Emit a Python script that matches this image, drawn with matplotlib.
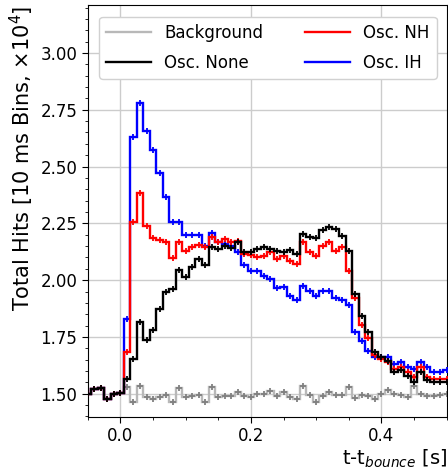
import numpy as np
import matplotlib
matplotlib.use("Agg")
import matplotlib.pyplot as plt
from matplotlib.ticker import MultipleLocator, FormatStrFormatter

# bin centres [s], 10 ms bins
time = np.round(np.arange(-0.05, 0.505, 0.01), 2)

# total hits per bin, x 1e4
background = [
    1.499, 1.523, 1.527, 1.479, 1.497, 1.502,
    1.531, 1.466, 1.535, 1.484, 1.477, 1.484, 1.496, 1.466, 1.525, 1.484,
    1.491, 1.494, 1.462, 1.531, 1.487, 1.491, 1.491, 1.506, 1.491, 1.487,
    1.499, 1.499, 1.513, 1.491, 1.506, 1.487, 1.477, 1.535, 1.496, 1.462,
    1.491, 1.510, 1.496, 1.496, 1.528, 1.481, 1.496, 1.491, 1.477, 1.499,
    1.516, 1.499, 1.496, 1.487, 1.535, 1.501, 1.491, 1.491, 1.496, 1.499,
]
osc_none = [
    1.499, 1.523, 1.527, 1.479, 1.497, 1.502,
    1.565, 1.653, 1.814, 1.738, 1.782, 1.873, 1.950, 1.963, 2.043, 2.015,
    2.058, 2.095, 2.065, 2.147, 2.137, 2.151, 2.140, 2.169, 2.125, 2.125,
    2.139, 2.144, 2.136, 2.129, 2.122, 2.134, 2.117, 2.205, 2.188, 2.185,
    2.220, 2.232, 2.223, 2.195, 2.128, 1.940, 1.842, 1.770, 1.682, 1.664,
    1.645, 1.594, 1.604, 1.579, 1.550, 1.597, 1.562, 1.550, 1.550, 1.552,
]
osc_nh = [
    1.499, 1.523, 1.527, 1.479, 1.497, 1.502,
    1.686, 2.254, 2.383, 2.237, 2.185, 2.178, 2.170, 2.098, 2.166, 2.129,
    2.144, 2.153, 2.144, 2.188, 2.166, 2.180, 2.166, 2.173, 2.117, 2.112,
    2.103, 2.107, 2.122, 2.093, 2.107, 2.085, 2.071, 2.166, 2.122, 2.107,
    2.151, 2.169, 2.129, 2.144, 2.041, 1.920, 1.804, 1.745, 1.672, 1.653,
    1.638, 1.611, 1.616, 1.594, 1.572, 1.616, 1.576, 1.565, 1.565, 1.567,
]
osc_ih = [
    1.499, 1.523, 1.527, 1.479, 1.497, 1.502,
    1.829, 2.628, 2.779, 2.657, 2.573, 2.471, 2.367, 2.254, 2.254, 2.198,
    2.198, 2.198, 2.151, 2.207, 2.168, 2.160, 2.152, 2.122, 2.068, 2.040,
    2.041, 2.019, 2.007, 1.965, 1.971, 1.931, 1.914, 1.975, 1.953, 1.931,
    1.953, 1.953, 1.921, 1.912, 1.890, 1.770, 1.733, 1.689, 1.663, 1.660,
    1.660, 1.633, 1.642, 1.616, 1.609, 1.638, 1.616, 1.594, 1.598, 1.605,
]

edges = np.append(time - 0.005, time[-1] + 0.005)

plt.rcParams["font.family"] = ["DejaVu Sans"]

fig = plt.figure(figsize=(4.48, 4.76), dpi=100)
ax = fig.add_axes([0.196, 0.125, 0.801, 0.864])

series = [
    (background, "0.72", "0.5", "Background", 2),
    (osc_none, "black", "black", "Osc. None", 5),
    (osc_nh, "red", "red", "Osc. NH", 4),
    (osc_ih, "blue", "blue", "Osc. IH", 3),
]

for vals, line_col, mark_col, label, z in series:
    ax.stairs(vals, edges, color=line_col, lw=1.7, label=label, zorder=z)
    ax.plot(
        time, vals,
        ls="none",
        marker="+",
        ms=5,
        mew=1.3,
        color=mark_col,
        zorder=z
    )

ax.set_xlim(-0.05, 0.5)
ax.set_ylim(1.4, 3.21)

ax.xaxis.set_major_locator(MultipleLocator(0.2))
ax.xaxis.set_minor_locator(MultipleLocator(0.05))
ax.xaxis.set_major_formatter(FormatStrFormatter("%.1f"))
ax.yaxis.set_major_locator(MultipleLocator(0.25))
ax.yaxis.set_minor_locator(MultipleLocator(0.05))
ax.yaxis.set_major_formatter(FormatStrFormatter("%.2f"))

ax.tick_params(which="major", direction="out", length=4, labelsize=12)
ax.tick_params(which="minor", direction="out", length=2.5)

ax.grid(True, which="major", color="0.8", lw=1)
ax.set_axisbelow(True)

ax.set_xlabel("t-t$_{bounce}$ [s]", fontsize=14, loc="right", labelpad=2)
ax.set_ylabel("Total Hits [10 ms Bins, $\\times 10^4$]",
              fontsize=15, loc="top", labelpad=3)

ax.legend(
    loc="upper left",
    ncol=2,
    fontsize=12,
    handlelength=2.7,
    labelspacing=0.75,
    columnspacing=2.5,
    borderaxespad=0.7,
    framealpha=1.0,
    edgecolor="0.82"
)

fig.savefig("out.png", dpi=100)
